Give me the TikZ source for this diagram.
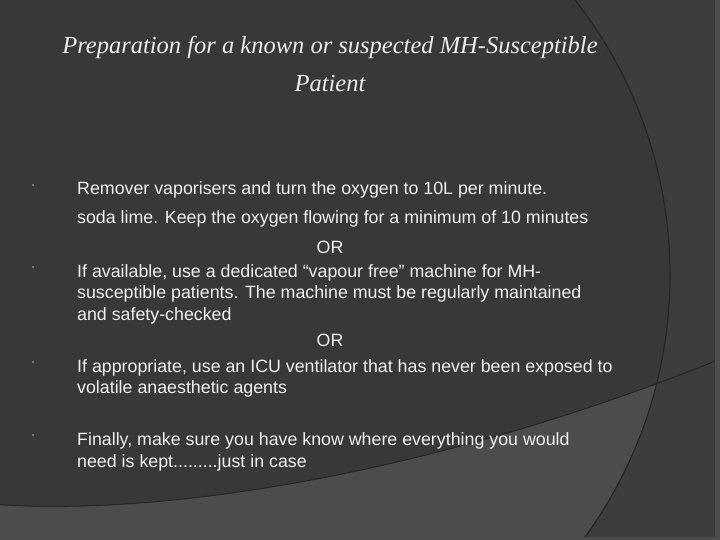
\documentclass[tikz,border=0pt]{standalone}
\usepackage{fontspec}
\setmainfont{Liberation Sans}
\newfontfamily\titlefont{Liberation Serif}
\begin{document}
\begin{tikzpicture}[x=1pt,y=-1pt,
  body/.style={anchor=base west,inner sep=0pt,text=black!6,font=\fontsize{17.8}{17.8}\selectfont},
  ttl/.style={anchor=base,inner sep=0pt,text=white!92!black,font=\titlefont\itshape\fontsize{24.5}{24.5}\selectfont},
  bul/.style={circle,fill=black!45,inner sep=0pt,minimum size=2.2pt}]
\useasboundingbox (0,0) rectangle (720,540);
\fill[black!76] (0,0) rectangle (720,540);
\fill[black!78] (224,275) circle (446);
\begin{scope}
\clip (224,275) circle (446);
\fill[black!70] (-10,504) .. controls (170,518) and (450,470) .. (730,355) -- (730,545) -- (-10,545) -- cycle;
\end{scope}
\draw[black!85,line width=1.2pt] (224,275) circle (446);
\draw[black!85,line width=1pt] (-10,504) .. controls (170,518) and (450,470) .. (730,355);
\fill[black!70] (715,0) rectangle (720,540);
\fill[black!70] (0,537) rectangle (720,540);
\node[ttl] (t1) at (330,54) {Preparation for a known or suspected MH-Susceptible};
\node[ttl] (t2) at (330,92) {Patient};
\foreach \y/\n in {189/b1,271/b2,366/b3,439/b4} \node[bul] (\n) at (33,\y-4) {};
\node[body] (l1) at (77,195) {Remover vaporisers and turn the oxygen to 10L per minute.};
\node[body] (l2) at (77,224) {soda lime. Keep the oxygen flowing for a minimum of 10 minutes};
\node[body,anchor=base] (l3) at (330,253) {OR};
\node[body] (l4) at (77,277) {If available, use a dedicated “vapour free” machine for MH-};
\node[body] (l5) at (77,298) {susceptible patients. The machine must be regularly maintained};
\node[body] (l6) at (77,320) {and safety-checked};
\node[body,anchor=base] (l7) at (330,346) {OR};
\node[body] (l8) at (77,372) {If appropriate, use an ICU ventilator that has never been exposed to};
\node[body] (l9) at (77,393) {volatile anaesthetic agents};
\node[body] (l10) at (77,445) {Finally, make sure you have know where everything you would};
\node[body] (l11) at (77,467) {need is kept.........just in case};
\end{tikzpicture}
\end{document}
